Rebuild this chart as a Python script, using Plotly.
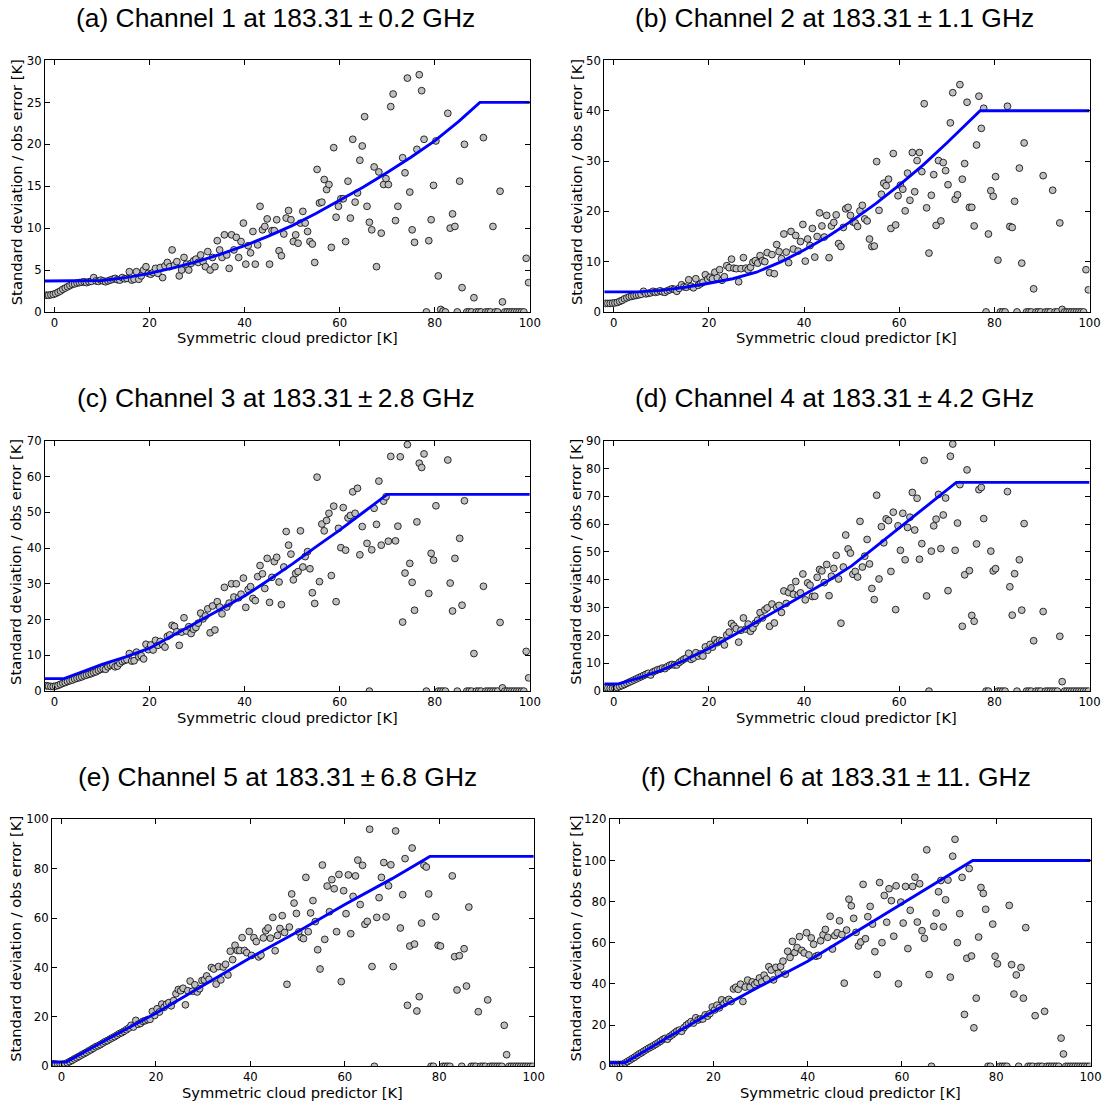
import plotly.graph_objects as go

# Figure size and the mapping from wanted screen pixels to figure pixels
# (the captured page shows the figure slightly scaled and shifted down)
W, H = 1121, 1118
SX = 0.9906
SY = 0.9857
DY = 6.7

# ---------------- data ----------------
# bin centres of the symmetric cloud predictor: -1.75, -1.25, ..., 99.75 (0.5 K bins)
BIN_START = -1.75
BIN_WIDTH = 0.5

titles = [
    "(a) Channel 1 at 183.31\u2009\u00b1\u20090.2 GHz",
    "(b) Channel 2 at 183.31\u2009\u00b1\u20091.1 GHz",
    "(c) Channel 3 at 183.31\u2009\u00b1\u20092.8 GHz",
    "(d) Channel 4 at 183.31\u2009\u00b1\u20094.2 GHz",
    "(e) Channel 5 at 183.31\u2009\u00b1\u20096.8 GHz",
    "(f) Channel 6 at 183.31\u2009\u00b1\u200911. GHz",
]
x_label = "Symmetric cloud predictor [K]"
y_label = "Standard deviation / obs error [K]"
x_ticks = [0, 20, 40, 60, 80, 100]

# standard deviation per bin; first 4 values are bins -1.75..-0.25, then rows of 10 (5 K each)
std_ch1 = [2.0, 2.0, 2.05, 2.1,
    2.2, 2.35, 2.5, 2.7, 2.85, 3.0, 3.15, 3.3, 3.35, 3.45,
    3.5, 3.55, 3.6, 3.5, 3.6, 3.65, 4.1, 3.7, 3.65, 3.8,
    3.7, 3.6, 3.7, 3.8, 3.9, 4.0, 3.85, 3.8, 4.1, 3.95,
    4.0, 4.8, 3.8, 3.9, 4.8, 3.9, 4.3, 5.0, 5.4, 4.6,
    4.5, 4.7, 5.2, 4.6, 5.3, 4.1, 5.5, 5.9, 5.4, 7.4,
    5.6, 6.0, 4.3, 5.0, 6.5, 5.7, 5.0, 5.8, 6.1, 6.3,
    5.9, 6.8, 6.0, 5.4, 7.2, 5.0, 6.5, 5.4, 8.5, 7.4,
    6.5, 9.2, 6.8, 5.2, 9.2, 7.4, 8.9, 6.5, 8.4, 10.6,
    5.7, 7.9, 7.05, 9.6, 5.7, 8.0, 12.6, 9.8, 10.2, 11.1,
    5.7, 9.7, 9.7, 11.0, 7.3, 6.7, 9.3, 11.2, 12.1, 11.0,
    8.4, 9.2, 8.2, 10.6, 12.0, 10.6, 9.6, 8.4, 8.1, 5.9,
    17.0, 13.0, 13.1, 15.8, 14.6, 15.2, 7.7, 19.6, 11.3, 12.6,
    13.5, 13.5, 8.4, 15.6, 11.2, 20.6, 13.1, 14.2, 18.1, 19.8,
    23.3, 12.6, 10.7, 9.8, 17.3, 5.4, 16.7, 9.4, 15.2, 15.9,
    15.2, 24.5, 26.0, 10.9, 12.6, None, 18.4, 16.6, 27.9, 14.3,
    9.8, 8.3, 19.4, 28.3, 26.4, 20.6, 0, 8.5, 11.0, 15.1,
    20.4, 4.3, 0.3, 0.1, 0, 23.7, 10.0, 11.7, 10.2, 0,
    15.6, 2.9, 20.0, 0, 0, 0, 1.7, 0, 0, 0,
    20.8, 0, 0, 0, 10.2, 0, 0, 14.4, 1.2, 0,
    0, 0, 0, 0, 0, 0, 0, 0, 6.4, 3.5]

std_ch2 = [1.7, 1.7, 1.7, 1.75,
    1.8, 1.9, 2.1, 2.3, 2.6, 2.8, 3.0, 3.1, 3.2, 3.3,
    3.4, 3.5, 4.1, 3.6, 3.7, 3.8, 4.1, 3.9, 4.0, 4.2,
    4.0, 3.9, 4.2, 4.4, 4.6, 4.5, 4.1, 4.7, 5.4, 5.0,
    4.9, 6.4, 5.1, 4.8, 6.6, 5.3, 5.6, 5.9, 7.4, 6.5,
    6.9, 6.6, 7.9, 6.8, 8.4, 6.3, 7.0, 9.2, 8.8, 10.5,
    8.7, 8.6, 6.0, 8.6, 10.8, 8.7, 8.4, 8.9, 9.9, 10.2,
    9.7, 11.2, 10.2, 10.0, 11.8, 7.8, 11.4, 7.6, 13.4, 12.0,
    10.6, 15.5, 11.9, 9.8, 16.0, 12.5, 15.2, 12.1, 14.0, 17.4,
    10.1, 14.5, 13.2, 16.6, 10.9, 15.0, 19.7, 17.1, 14.9, 19.2,
    10.8, 17.1, 17.8, 19.3, 13.6, 13.0, 16.8, 20.5, 20.8, 19.2,
    17.9, 17.7, 17.0, 20.1, 21.2, 18.5, 18.1, 14.5, 13.0, 13.1,
    29.9, 20.2, 23.4, 25.6, 25.1, 26.4, 16.6, 31.5, 17.3, 23.1,
    25.2, 24.4, 20.1, 27.6, 22.2, 31.7, 23.9, 30.1, 31.7, 27.9,
    41.4, 20.7, 11.7, 23.2, 27.3, 17.2, 30.1, 18.1, 29.7, 28.1,
    25.3, 37.6, 43.6, 22.4, 23.3, 45.2, 26.4, 29.5, 41.7, 20.8,
    20.8, 17.1, 33.2, 42.9, 36.5, 40.5, 0, 15.5, 24.1, 23.0,
    26.9, 10.3, 0, 0, 0, 40.9, 17.0, 16.8, 22.0, 0,
    28.6, 9.7, 33.6, 0, 0, 0, 4.6, 0, 0, 0,
    27.1, 0, 0, 0, 24.2, 0, 0, 17.7, 0.5, 0,
    0, 0, 0, 0, 0, 0, 0, 0, 8.4, 4.4]

std_ch3 = [1.5, 1.4, 1.3, 1.3,
    1.4, 1.6, 1.9, 2.2, 2.4, 2.7, 2.9, 3.1, 3.4, 3.6,
    3.8, 4.0, 4.3, 4.5, 4.7, 4.9, 5.2, 5.4, 5.8, 6.1,
    6.3, 6.1, 6.8, 7.2, 7.4, 6.8, 7.0, 7.8, 8.3, 8.6,
    8.8, 10.5, 8.4, 8.5, 10.9, 9.6, 9.9, 9.0, 13.1, 11.6,
    12.9, 11.5, 14.2, 12.8, 13.9, 13.0, 12.3, 15.3, 15.7, 18.4,
    18.1, 16.6, 12.8, 16.5, 20.5, 16.8, 18.0, 16.1, 17.3, 17.8,
    19.0, 21.8, 20.2, 21.0, 23.0, 16.3, 23.8, 17.1, 25.0, 23.5,
    21.6, 29.0, 23.5, 24.6, 30.0, 26.3, 30.0, 26.1, 27.1, 31.6,
    23.4, 28.4, 29.2, 25.9, 25.3, 32.0, 35.1, 32.8, 28.7, 37.1,
    24.8, 31.8, 36.2, 37.4, 30.5, 24.2, 34.7, 44.6, 40.8, 38.3,
    31.1, 32.9, 33.4, 44.8, 34.7, 37.6, 39.0, 34.2, 27.5, 24.5,
    59.8, 30.6, 46.7, 44.8, 47.7, 49.7, 32.3, 51.7, 25.0, 45.5,
    40.1, 51.3, 39.4, 48.4, 49.1, 55.7, 49.7, 56.7, 38.1, 46.0,
    None, 41.3, 0, 39.5, 51.1, 46.6, 58.7, 40.8, 53.1, 54.3,
    41.9, 65.6, None, 42.0, 46.1, 65.5, 19.3, 33.0, 68.9, 35.7,
    30.4, 22.6, 47.3, 63.7, 62.5, 66.3, 0, 27.3, 38.5, 36.6,
    51.8, 0, 0, 0, 0, 64.6, 30.2, 22.4, 37.1, 0,
    42.7, 24.0, 53.2, 0, 0, 0, 10.5, 0, 0, 0,
    29.3, 0, 0, 0, 0, 0, 0, 19.2, 0.9, 0,
    0, 0, 0, 0, 0, 0, 0, 0, 11.1, 3.7]

std_ch4 = [1.2, 1.1, 1.0, 1.0,
    1.0, 1.3, 1.7, 2.0, 2.4, 2.8, 3.2, 3.6, 4.0, 4.4,
    4.8, 5.2, 5.6, 6.0, 6.4, 5.8, 6.9, 7.3, 7.7, 7.9,
    8.3, 8.1, 8.8, 9.3, 9.6, 9.4, 9.4, 10.3, 10.9, 11.5,
    11.9, 13.6, 11.4, 11.9, 13.8, 12.6, 13.4, 12.6, 15.9, 14.7,
    16.8, 15.8, 18.5, 17.4, 18.2, 18.0, 16.6, 20.2, 21.2, 24.3,
    23.4, 22.4, 17.6, 21.9, 26.3, 22.3, 24.1, 21.5, 22.6, 24.4,
    25.5, 28.2, 26.3, 29.2, 29.9, 23.3, 31.3, 24.5, 30.1, 30.8,
    28.3, 36.0, 31.5, 35.4, 37.1, 34.8, 39.4, 34.5, 35.3, 42.1,
    32.8, 38.9, 38.1, 34.0, 34.1, 40.9, 43.7, 43.2, 39.0, 45.5,
    34.3, 41.3, 44.1, 48.8, 40.3, 24.4, 44.6, 56.1, 51.1, 49.6,
    42.0, 43.0, 41.0, 61.0, 44.6, 48.5, 54.5, 45.7, 36.9, 32.9,
    70.4, 40.3, 59.1, 53.3, 61.9, 61.3, 43.0, 64.3, 29.3, 59.4,
    50.6, 63.9, 47.2, 58.8, 62.5, 71.4, 57.9, 69.3, 47.4, 53.0,
    82.9, 34.2, 0, 50.3, 59.4, 61.8, 70.7, 51.2, 63.3, 69.4,
    36.1, 84.4, 88.8, 50.6, 60.4, 74.2, 23.3, 41.8, 79.5, 43.3,
    27.2, 25.1, 52.9, 72.4, 73.2, 62.0, 0, 0, 50.3, 43.2,
    44.0, 0, 0, 0, 0, 71.7, 37.5, 27.3, 42.2, 0,
    47.2, 29.1, 60.2, 0, 0, 0, 18.1, 0, 0, 0,
    28.6, 0, 0, 0, 0, 0, 0, 19.7, 3.4, 0,
    0, 0, 0, 0, 0, 0, 0, 0, 0, 0]

std_ch5 = [1.0, 0.9, 0.8, 0.8,
    0.8, 1.0, 1.4, 1.9, 2.4, 3.0, 3.5, 4.0, 4.6, 5.1,
    5.6, 6.2, 6.7, 7.3, 7.9, 8.3, 8.8, 9.4, 10.0, 10.4,
    11.0, 11.5, 12.0, 12.6, 13.2, 13.6, 14.2, 14.8, 15.5, 16.6,
    15.9, 18.6, 17.0, 17.4, 18.2, 18.5, 18.9, 19.0, 22.2, 20.6,
    23.3, 22.0, 25.2, 23.9, 25.2, 25.8, 24.5, 26.6, 29.4, 31.1,
    30.6, 31.6, 24.9, 30.6, 34.5, 30.4, 33.0, 30.1, 31.4, 34.7,
    35.0, 36.6, 35.2, 40.0, 39.4, 33.3, 40.4, 35.0, 40.2, 41.3,
    37.0, 46.6, 43.2, 49.0, 46.9, 46.9, 52.1, 46.9, 46.0, 54.6,
    44.9, 52.1, 50.5, 44.3, 45.0, 52.0, 54.9, 56.0, 51.9, 60.3,
    46.8, 53.0, 55.8, 61.0, 54.2, 33.2, 56.4, 69.8, 66.1, 61.9,
    54.4, 52.2, 51.7, 76.5, 54.5, 62.1, 67.1, 58.6, 47.2, 39.4,
    81.5, 51.4, 73.0, 62.6, 75.6, 71.9, 54.5, 77.7, 34.3, 71.1,
    61.8, 77.5, 53.7, 68.8, 77.1, 83.5, 65.5, 81.4, 57.5, 58.7,
    96.0, 40.4, 0, 60.3, 68.3, 76.5, 82.5, 60.5, 73.1, 81.6,
    40.4, 95.3, None, 56.0, 69.5, 84.1, 24.7, 48.7, 88.4, 49.5,
    22.4, 28.2, 58.0, 81.4, 80.7, 69.8, 0, 0, 60.6, 49.0,
    48.7, 0, 0, 0, 0, 77.1, 44.4, 30.9, 44.8, 0,
    47.6, 32.5, 64.5, 0, 0, 0, 22.1, 0, 0, 0,
    26.9, 0, 0, 0, 0, 0, 0, 16.6, 4.7, 0,
    0, 0, 0, 0, 0, 0, 0, 0, 0, 0]

std_ch6 = [0.9, 0.9, 0.9, 0.9,
    0.9, 1.0, 1.6, 2.3, 3.0, 3.7, 4.4, 5.2, 6.0, 6.6,
    7.4, 8.1, 8.8, 9.4, 10.0, 10.7, 11.4, 12.2, 13.0, 13.6,
    13.2, 14.5, 15.3, 16.2, 17.1, 17.6, 17.0, 18.8, 20.0, 20.8,
    21.7, 21.0, 23.6, 22.5, 23.0, 23.0, 25.0, 24.4, 25.6, 28.8,
    27.4, 29.7, 28.4, 32.3, 30.5, 31.8, 32.5, 31.5, 37.6, 38.4,
    37.4, 39.9, 31.5, 38.5, 41.9, 38.5, 41.0, 39.8, 40.8, 42.9,
    41.0, 44.3, 42.4, 48.4, 46.8, 42.0, 48.1, 45.2, 48.5, 51.1,
    44.8, 55.9, 52.9, 60.7, 55.3, 57.7, 63.0, 56.3, 55.1, 64.9,
    54.1, 62.4, 59.3, 53.5, 53.9, 61.0, 63.9, 66.5, 62.7, 72.9,
    57.0, 63.5, 64.9, 70.7, 64.0, 40.4, 66.2, 81.2, 78.0, 71.9,
    65.1, 58.5, 60.4, 88.4, 62.0, 72.7, 77.7, 69.1, 55.7, 44.6,
    89.3, 60.1, 83.0, 70.0, 86.3, 80.5, 63.2, 87.7, 40.1, 79.8,
    69.6, 87.4, 57.2, 75.8, 87.4, 91.9, 70.1, 88.7, 65.9, 62.2,
    105.2, 44.6, 0, 68.0, 74.5, 84.8, 90.3, 67.7, 80.9, 90.5,
    43.3, 102.1, 110.3, 60.1, 74.2, 91.8, 25.2, 52.5, 96.1, 53.6,
    18.7, 33.1, 62.8, 86.9, 84.0, 76.3, 0, 0, 69.1, 53.5,
    49.8, 0, 0, 0, 0, 78.2, 49.4, 35.1, 44.4, 0,
    48.0, 33.1, 67.4, 0, 0, 0, 24.6, 0, 0, 0,
    26.7, 0, 0, 0, 0, 0, 0, 13.7, 6.0, 0,
    0, 0, 0, 0, 0, 0, 0, 0, 0, 0]

# assigned observation error model (blue line), read at nodes
err_x_ch1 = [-2, 5, 10, 15, 20, 25, 30, 35, 40, 45, 50, 55, 60, 65, 70, 75, 80, 85, 89.5, 100]
err_y_ch1 = [3.7, 3.7, 3.75, 4.1, 4.6, 5.25, 6.0, 6.9, 7.9, 9.05, 10.3, 11.75, 13.3, 14.9, 16.65, 18.45, 20.4, 22.7, 25, 25]
err_x_ch2 = [-2, 5, 10, 15, 20, 25, 30, 35, 40, 45, 50, 55, 60, 65, 70, 75, 77, 100]
err_y_ch2 = [4.0, 4.0, 4.3, 4.9, 5.7, 6.6, 7.9, 9.9, 12.3, 15.0, 18.1, 21.5, 25.2, 29.2, 33.6, 38.2, 40, 40]
err_x_ch3 = [-2, 2, 5, 10, 15, 20, 25, 30, 35, 40, 45, 50, 55, 60, 65, 70, 100]
err_y_ch3 = [3.5, 3.5, 5.0, 7.5, 9.6, 12.0, 15.6, 19.3, 22.9, 26.6, 31.0, 35.5, 40.3, 45.0, 50.0, 55, 55]
err_x_ch4 = [-2, 1, 5, 10, 15, 20, 25, 30, 35, 40, 45, 50, 55, 60, 65, 70, 72, 100]
err_y_ch4 = [2.6, 2.6, 4.6, 7.5, 11.2, 15.3, 19.9, 24.8, 29.6, 34.5, 39.6, 45.0, 51.8, 58.5, 65.3, 72.2, 75, 75]
err_x_ch5 = [-2, 1, 10, 20, 30, 40, 50, 60, 70, 78, 100]
err_y_ch5 = [1.7, 1.7, 11.3, 21.5, 32.7, 44.0, 54.5, 65.5, 76.0, 85, 85]
err_x_ch6 = [-2, 1.2, 10, 20, 30, 40, 50, 60, 70, 75, 100]
err_y_ch6 = [1.7, 1.7, 13.6, 26.7, 39.0, 51.0, 65.0, 79.0, 93.0, 100, 100]

y_max = [30, 50, 70, 90, 100, 120]
y_dtick = [5, 10, 10, 10, 20, 20]

# ---------------- layout (screen-pixel boxes of each axes) ----------------
boxes = [  # left, right, top, bottom (px)
    (45, 530, 60, 311),
    (604.5, 1090, 60, 311),
    (45, 530, 439.5, 689.5),
    (604.5, 1090, 439.5, 689.5),
    (52, 534, 817.5, 1064),
    (610, 1091, 817.5, 1064),
]
title_cx = [275.5, 834.5, 276, 834.5, 278, 836]
title_cy = [18, 18, 397, 397, 775, 775]
ylab_cx = [16, 576, 16, 576, 16, 576]
XLAB_DY = 26

stds = [std_ch1, std_ch2, std_ch3, std_ch4, std_ch5, std_ch6]
err_xs = [err_x_ch1, err_x_ch2, err_x_ch3, err_x_ch4, err_x_ch5, err_x_ch6]
err_ys = [err_y_ch1, err_y_ch2, err_y_ch3, err_y_ch4, err_y_ch5, err_y_ch6]

TICK_FONT = dict(family="DejaVu Sans", size=11.7, color="black")
LABEL_FONT = dict(family="DejaVu Sans", size=14.7, color="black")
TITLE_FONT = dict(family="Liberation Sans, Arial, sans-serif", size=26.4, color="black")

fig = go.Figure()
layout = dict(
    width=W, height=H, margin=dict(l=0, r=0, t=0, b=0),
    paper_bgcolor="white", plot_bgcolor="white", showlegend=False,
    annotations=[],
)

def px_x(p):
    return (p / SX) / W

def px_y(p):
    return 1 - (p / SY - DY) / H

for i in range(6):
    n = i + 1
    xa = "x" if n == 1 else f"x{n}"
    ya = "y" if n == 1 else f"y{n}"
    ys = stds[i]
    xs = [BIN_START + BIN_WIDTH * k for k in range(len(ys))]
    fig.add_trace(go.Scatter(
        x=xs, y=ys, mode="markers", xaxis=xa, yaxis=ya,
        marker=dict(size=6.8, color="#bfbfbf", line=dict(color="black", width=0.8)),
        cliponaxis=True, hoverinfo="skip",
    ))
    fig.add_trace(go.Scatter(
        x=err_xs[i], y=err_ys[i], mode="lines", xaxis=xa, yaxis=ya,
        line=dict(color="#0000ff", width=2.9), hoverinfo="skip",
    ))
    l, r, t, b = boxes[i]
    common = dict(showgrid=False, zeroline=False, showline=True, linecolor="black",
                  linewidth=1, mirror="ticks", ticks="inside", ticklen=5, tickwidth=1,
                  tickcolor="black", tickfont=TICK_FONT)
    layout["xaxis" if n == 1 else f"xaxis{n}"] = dict(
        common, domain=[px_x(l), px_x(r)], anchor=ya, range=[-2, 100],
        tickmode="array", tickvals=x_ticks, ticktext=[str(v) for v in x_ticks])
    layout["yaxis" if n == 1 else f"yaxis{n}"] = dict(
        common, domain=[px_y(b), px_y(t)], anchor=xa, range=[0, y_max[i]],
        tick0=0, dtick=y_dtick[i])
    layout["annotations"] += [
        dict(text=titles[i], x=px_x(title_cx[i]), y=px_y(title_cy[i]), xref="paper", yref="paper",
             xanchor="center", yanchor="middle", showarrow=False, font=TITLE_FONT),
        dict(text=x_label, x=px_x((l + r) / 2), y=px_y(b + XLAB_DY), xref="paper", yref="paper",
             xanchor="center", yanchor="middle", showarrow=False, font=LABEL_FONT),
        dict(text=y_label, x=px_x(ylab_cx[i]), y=px_y((t + b) / 2 - 4), xref="paper", yref="paper",
             xanchor="center", yanchor="middle", showarrow=False, textangle=-90, font=LABEL_FONT),
    ]

fig.update_layout(**layout)
fig.write_html("out.html")
